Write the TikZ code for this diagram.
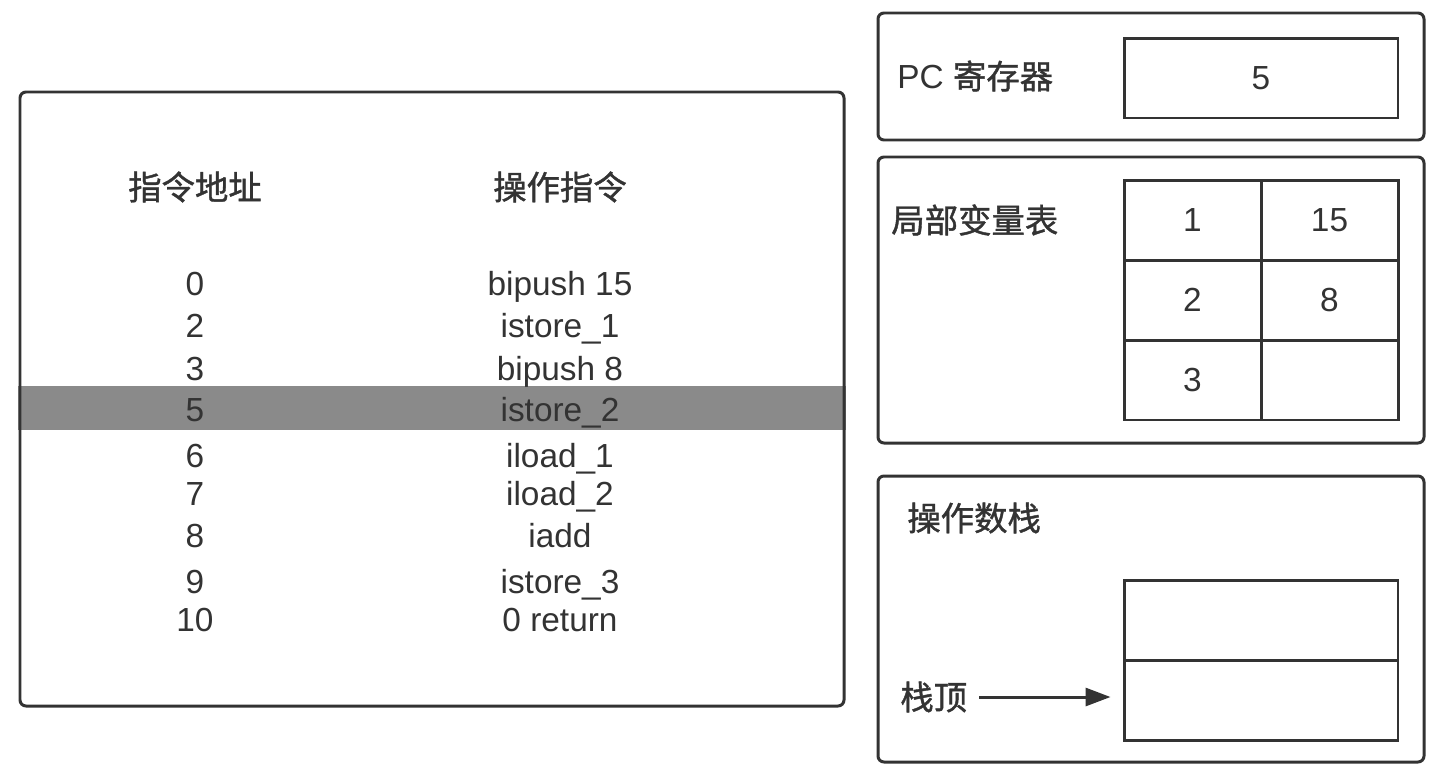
\documentclass[tikz,border=0pt]{standalone}
\usepackage{fontspec}
\setmainfont{Liberation Sans}
\newfontfamily\cjk{Noto Sans CJK SC}[FakeBold=1.2]
\usetikzlibrary{arrows.meta}
\definecolor{linea}{HTML}{333333}
\definecolor{banda}{HTML}{8A8A8A}
\tikzset{
  testo/.style={text=linea, inner sep=0pt, font=\fontsize{19}{22}\selectfont},
  riga/.style={testo, anchor=base},
  riquadro/.style={draw=linea, line width=1.7pt, rounded corners=0.12cm},
  cella/.style={draw=linea, line width=1.7pt, inner sep=0pt, minimum width=2.74cm, minimum height=1.6cm, text=linea, font=\fontsize{19}{22}\selectfont},
}
\begin{document}
\begin{tikzpicture}[x=0.02cm, y=-0.02cm]
    \useasboundingbox (0,0) rectangle (1436,778);

     % Tabella delle istruzioni
    \fill[banda] (18,386) rectangle (846,430);
    \draw[riquadro] (20,92) rectangle (844,706);
    \node[testo] (hadr) at (195,187) {\cjk 指令地址};
    \node[testo] (hins) at (560,187) {\cjk 操作指令};
    \foreach \ind/\istr/\y in {0/bipush 15/295, 2/istore\_1/337, 3/bipush 8/380, 5/istore\_2/421, 6/iload\_1/467, 7/iload\_2/505, 8/iadd/547, 9/istore\_3/593, 10/0 return/631} {
        \node[riga] (ind\ind) at (195,\y) {\ind};
        \node[riga] (istr\ind) at (560,\y) {\istr};
    }

     % Registro PC
    \draw[riquadro] (878,13) rectangle (1424,140);
    \node[testo, anchor=west] (pc) at (897,76) {PC {\cjk 寄存器}};
    \node[cella, minimum width=5.48cm] (pcval) at (1261,78) {5};

     % Tabella delle variabili locali
    \draw[riquadro] (878,157) rectangle (1424,443);
    \node[testo, anchor=west] (locali) at (891,220) {\cjk 局部变量表};
    \node[cella] (l1) at (1192.5,220) {1};
    \node[cella] (v1) at (1329.5,220) {15};
    \node[cella] (l2) at (1192.5,300) {2};
    \node[cella] (v2) at (1329.5,300) {8};
    \node[cella] (l3) at (1192.5,380) {3};
    \node[cella] (v3) at (1329.5,380) {};

     % Stack degli operandi
    \draw[riquadro] (878,476) rectangle (1424,762);
    \node[testo, anchor=west] (stack) at (907,518) {\cjk 操作数栈};
    \node[cella, minimum width=5.48cm] (s1) at (1261,620) {};
    \node[cella, minimum width=5.48cm] (s2) at (1261,700) {};
    \node[testo, anchor=west] (cima) at (900,697) {\cjk 栈顶};

     % Freccia verso la cima
    \draw[-{Triangle[length=0.5cm, width=0.36cm]}, line width=1.7pt, linea, shorten <=0.24cm, shorten >=0.24cm] (cima.east |- 0,697) -- (s2.west |- 0,697);
\end{tikzpicture}
\end{document}
